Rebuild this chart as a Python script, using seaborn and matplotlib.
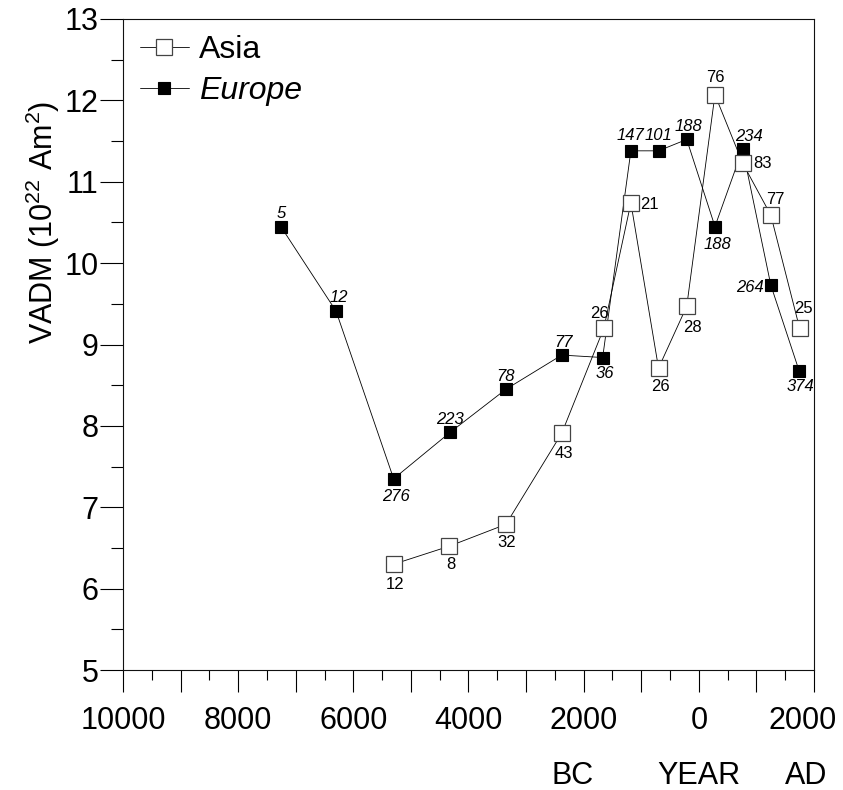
import matplotlib
matplotlib.use("Agg")
import matplotlib.pyplot as plt
import matplotlib.transforms as mtransforms
import seaborn as sns
import numpy as np
from matplotlib.ticker import MultipleLocator, FuncFormatter

# ---- data (years: negative = BC) ----
years_asia = [-5300, -4340, -3350, -2380, -1650, -1180, -700, -210, 280, 760, 1250, 1750]
vadm_asia = [6.30, 6.52, 6.79, 7.91, 9.20, 10.74, 8.71, 9.47, 12.07, 11.23, 10.59, 9.20]
n_asia = [12, 8, 32, 43, 26, 21, 26, 28, 76, 83, 77, 25]

years_europe = [-7250, -6300, -5300, -4320, -3350, -2380, -1670, -1180, -700, -210, 280, 760, 1250, 1740]
vadm_europe = [10.44, 9.41, 7.35, 7.92, 8.45, 8.87, 8.84, 11.38, 11.38, 11.52, 10.45, 11.40, 9.73, 8.68]
n_europe = [5, 12, 276, 223, 78, 77, 36, 147, 101, 188, 188, 234, 264, 374]

x_label_words = ["BC", "YEAR", "AD"]
x_label_pos = [-2190, 0, 1870]

# label offsets (pixels) for annotations
off_asia = [(1, -20), (2, -18), (1, -18), (2, -20), (-4, 15), (19, -2), (2, -18),
            (6, -21), (0, 17), (20, 0), (5, 16), (4, 20)]
off_europe = [(0, 14), (3, 14), (2, -18), (0, 13), (0, 13), (2, 13), (2, -16),
              (0, 15), (0, 15), (2, 13), (2, -18), (6, 13), (-21, -2), (1, -16)]

sns.set_style("ticks")
plt.rcParams["font.family"] = ["Liberation Sans", "DejaVu Sans"]
plt.rcParams["mathtext.fontset"] = "custom"
plt.rcParams["mathtext.rm"] = "Liberation Sans"
plt.rcParams["mathtext.it"] = "Liberation Sans:italic"
plt.rcParams["text.color"] = "black"
plt.rcParams["xtick.color"] = "black"
plt.rcParams["ytick.color"] = "black"

fig = plt.figure(figsize=(8.43, 7.90), dpi=100)
ax = fig.add_axes([123 / 843, 1 - 670 / 790, 691 / 843, 651 / 790])

sns.lineplot(x=years_europe, y=vadm_europe, ax=ax, color="black", linewidth=0.6,
             marker="s", markersize=8, markerfacecolor="black",
             markeredgecolor="black", markeredgewidth=0.8, label="Europe",
             sort=False, zorder=3)
sns.lineplot(x=years_asia, y=vadm_asia, ax=ax, color="black", linewidth=0.6,
             marker="s", markersize=12, markerfacecolor="white",
             markeredgecolor="#444444", markeredgewidth=0.9, label="Asia",
             sort=False, zorder=4)

for xv, yv, n, (dx, dy) in zip(years_asia, vadm_asia, n_asia, off_asia):
    ax.annotate(str(n), (xv, yv), xytext=(dx, dy), textcoords="offset pixels",
                ha="center", va="center", fontsize=12, color="black", zorder=6)
for xv, yv, n, (dx, dy) in zip(years_europe, vadm_europe, n_europe, off_europe):
    ax.annotate(str(n), (xv, yv), xytext=(dx, dy), textcoords="offset pixels",
                ha="center", va="center", fontsize=12, style="italic",
                color="black", zorder=6)

ax.set_xlim(-10000, 2000)
ax.set_ylim(5, 13)
ax.xaxis.set_major_locator(MultipleLocator(1000))
ax.xaxis.set_minor_locator(MultipleLocator(500))
ax.xaxis.set_major_formatter(FuncFormatter(
    lambda v, p: f"{abs(int(round(v)))}" if int(round(v)) % 2000 == 0 else ""))
ax.yaxis.set_major_locator(MultipleLocator(1))
ax.yaxis.set_minor_locator(MultipleLocator(0.5))
ax.tick_params(axis="x", which="major", length=16, width=0.8, labelsize=22, pad=10,
               direction="out", colors="black")
ax.tick_params(axis="x", which="minor", length=7, width=0.8, direction="out", colors="black")
ax.tick_params(axis="y", which="major", length=16.5, width=0.8, labelsize=22, pad=1,
               direction="out", colors="black")
ax.tick_params(axis="y", which="minor", length=8.5, width=0.8, direction="out", colors="black")
for s in ax.spines.values():
    s.set_visible(True)
    s.set_linewidth(0.8)
    s.set_color("#111111")

ax.set_xlabel("")
ax.set_ylabel("")
fig.text(43 / 843, 1 - 222 / 790, r"VADM (10$^{22}$ Am$^{2}$)", rotation=90,
         ha="center", va="center", fontsize=22, color="black")

for w, xp in zip(x_label_words, x_label_pos):
    ax.text(xp, -0.163, w, transform=ax.get_xaxis_transform(), ha="center",
            va="center", fontsize=22, color="black")

handles, labels = ax.get_legend_handles_labels()
order = [labels.index("Asia"), labels.index("Europe")]
leg = ax.legend([handles[i] for i in order], [labels[i] for i in order],
                loc="upper left", bbox_to_anchor=(0.024, 0.975), frameon=False,
                fontsize=23, handlelength=1.55, handletextpad=0.3,
                labelspacing=0.33, borderpad=0, borderaxespad=0)
leg.get_texts()[1].set_fontstyle("italic")

# shift the last x tick label (2000 AD) left so that it fits, as in the reference
fig.canvas.draw()
shift = mtransforms.ScaledTranslation(-11 / 100, 0, fig.dpi_scale_trans)
for t in ax.get_xticklabels():
    if t.get_position()[0] >= 1999:
        t.set_transform(t.get_transform() + shift)

fig.savefig("out.png", dpi=100)
